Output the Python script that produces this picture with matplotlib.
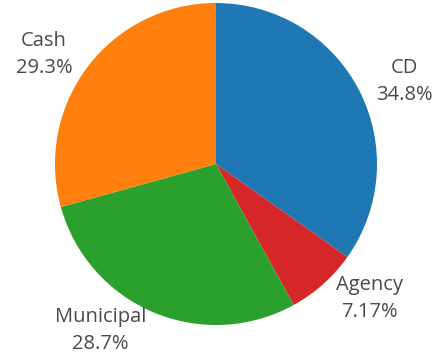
import matplotlib.pyplot as plt

labels = ['CD', 'Agency', 'Municipal', 'Cash']
shares = [34.8, 7.17, 28.7, 29.3]
pct_text = ['34.8%', '7.17%', '28.7%', '29.3%']
colors = ['#1f77b4', '#d62728', '#2ca02c', '#ff7f0e']

fig = plt.figure(figsize=(4.34, 3.62), dpi=100)
ax = fig.add_axes([55 / 434, 37 / 362, 322 / 434, 322 / 362])

wedges, texts = ax.pie(
    shares,
    colors=colors,
    labels=[f'{l}\n{p}' for l, p in zip(labels, pct_text)],
    startangle=90,
    counterclock=False,
    labeldistance=1.12,
    radius=1,
    textprops=dict(fontsize=14.5, color='#4a4a4a', family='Open Sans',
                   fontweight='normal', linespacing=1.45),
)
for t in texts:
    t.set_multialignment('center')

ax.set_xlim(-1, 1)
ax.set_ylim(-1, 1)
ax.set_aspect('equal')

fig.savefig('out.png', dpi=100)
